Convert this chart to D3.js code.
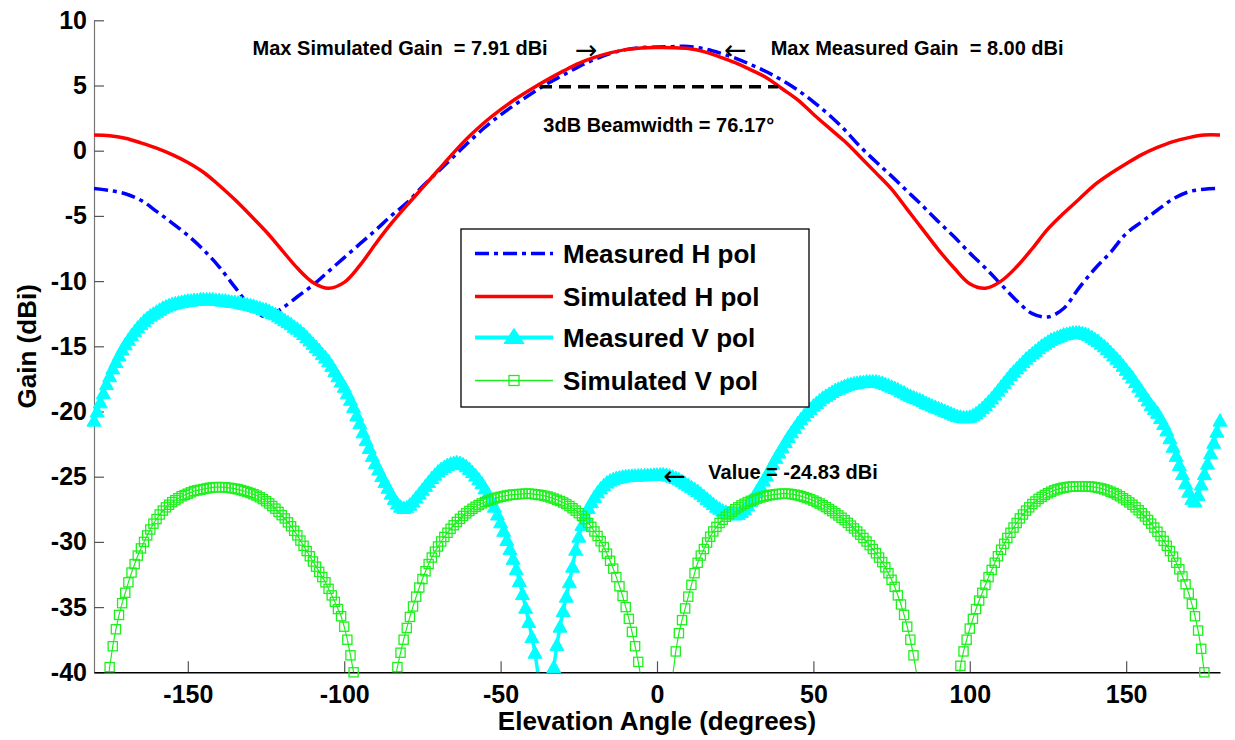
<!DOCTYPE html>
<html>
<head>
<meta charset="utf-8">
<script src="https://cdn.jsdelivr.net/npm/d3@7"></script>
<style>
  html, body { margin: 0; padding: 0; background: #fff; }
  svg { display: block; font-family: "Liberation Sans", Arial, Helvetica, sans-serif; }
</style>
</head>
<body>
<svg id="chart" width="1235" height="740"></svg>
<script>
// ---- Data -------------------------------------------------------------
// Horizontal polarisation, sampled every 5 degrees
const anglesH = d3.range(-180, 181, 5);
const simulatedH = [
  1.2, 1.15, 0.95, 0.6, 0.2, -0.3, -0.9, -1.65, -2.65, -3.75,
  -4.95, -6.2, -7.6, -9.0, -10.1, -10.55, -10.1, -8.8, -7.15, -5.6,
  -4.2, -2.85, -1.5, -0.15, 1.1, 2.2, 3.15, 4.0, 4.75, 5.45,
  6.1, 6.7, 7.15, 7.5, 7.75, 7.88, 7.91, 7.9, 7.83, 7.6,
  7.2, 6.75, 6.2, 5.6, 4.75, 3.9, 2.8, 1.75, 0.72, -0.48,
  -1.7, -2.95, -4.5, -6.05, -7.6, -9.0, -10.2, -10.55, -10.0, -8.9,
  -7.5, -6.0, -4.8, -3.7, -2.6, -1.75, -1.0, -0.3, 0.25, 0.7,
  1.0, 1.2, 1.2
];
const measuredH = [
  -2.9, -3.05, -3.3, -3.8, -4.65, -5.55, -6.5, -7.6, -8.9, -10.45,
  -11.9, -12.75, -12.1, -11.2, -10.3, -9.25, -8.2, -7.15, -6.1, -5.0,
  -4.0, -2.75, -1.6, -0.45, 0.7, 1.8, 2.75, 3.6, 4.4, 5.15,
  5.8, 6.45, 7.0, 7.45, 7.75, 7.9, 7.95, 7.98, 8.0, 7.82,
  7.5, 7.1, 6.6, 6.05, 5.4, 4.65, 3.75, 2.75, 1.6, 0.3,
  -0.85, -1.95, -3.1, -4.25, -5.45, -6.6, -7.85, -9.0, -10.25, -11.5,
  -12.5, -12.75, -12.1, -10.5, -9.05, -7.8, -6.35, -5.45, -4.55, -3.7,
  -3.15, -2.95, -2.9
];

// Vertical polarisation, sampled every degree
const anglesV = d3.range(-180, 181, 1);
const measuredV = [
  -20.7, -20.0, -19.3, -18.6, -17.9, -17.3, -16.7, -16.2, -15.7, -15.25,
  -14.85, -14.5, -14.15, -13.85, -13.55, -13.3, -13.05, -12.85, -12.65, -12.5,
  -12.35, -12.2, -12.05, -11.95, -11.85, -11.75, -11.7, -11.65, -11.6, -11.55,
  -11.5, -11.5, -11.45, -11.45, -11.4, -11.4, -11.4, -11.4, -11.4, -11.45,
  -11.45, -11.5, -11.5, -11.55, -11.6, -11.6, -11.65, -11.7, -11.75, -11.8,
  -11.85, -11.9, -12.0, -12.05, -12.15, -12.2, -12.3, -12.45, -12.55, -12.7,
  -12.85, -13.0, -13.15, -13.3, -13.5, -13.65, -13.85, -14.05, -14.3, -14.55,
  -14.8, -15.05, -15.3, -15.6, -15.85, -16.15, -16.5, -16.9, -17.3, -17.7,
  -18.1, -18.6, -19.1, -19.65, -20.3, -20.9, -21.6, -22.2, -22.8, -23.4,
  -23.95, -24.45, -24.95, -25.4, -25.85, -26.3, -26.7, -27.05, -27.3, -27.4,
  -27.35, -27.15, -26.9, -26.6, -26.3, -26.0, -25.7, -25.4, -25.1, -24.85,
  -24.6, -24.4, -24.25, -24.1, -24.0, -23.95, -23.9, -23.95, -24.05, -24.2,
  -24.4, -24.65, -24.9, -25.2, -25.5, -25.9, -26.3, -26.8, -27.3, -27.9,
  -28.5, -29.15, -29.85, -30.55, -31.3, -32.1, -33.0, -34.0, -35.05, -36.15,
  -37.3, -38.5, -40.2, -42.5, -45.0, -46.5, -43.0, -39.6, -37.9, -36.5,
  -35.3, -34.2, -33.1, -31.9, -30.6, -29.6, -28.7, -28.0, -27.4, -26.95,
  -26.55, -26.2, -25.9, -25.65, -25.45, -25.3, -25.2, -25.1, -25.05, -25.0,
  -24.97, -24.95, -24.93, -24.92, -24.91, -24.9, -24.89, -24.88, -24.87, -24.86,
  -24.85, -24.84, -24.83, -24.86, -24.92, -25.0, -25.1, -25.2, -25.35, -25.5,
  -25.65, -25.8, -25.95, -26.1, -26.3, -26.5, -26.7, -26.9, -27.1, -27.3,
  -27.45, -27.6, -27.7, -27.8, -27.85, -27.9, -27.85, -27.7, -27.5, -27.2,
  -26.85, -26.5, -26.1, -25.7, -25.3, -24.9, -24.45, -24.0, -23.55, -23.15,
  -22.75, -22.35, -21.95, -21.6, -21.25, -20.9, -20.6, -20.3, -20.05, -19.8,
  -19.55, -19.35, -19.15, -18.95, -18.8, -18.65, -18.5, -18.35, -18.25, -18.15,
  -18.05, -17.95, -17.9, -17.85, -17.8, -17.75, -17.75, -17.7, -17.7, -17.7,
  -17.7, -17.75, -17.8, -17.9, -18.0, -18.1, -18.2, -18.3, -18.45, -18.55,
  -18.7, -18.8, -18.9, -19.0, -19.1, -19.2, -19.35, -19.45, -19.55, -19.65,
  -19.75, -19.85, -19.95, -20.05, -20.15, -20.25, -20.35, -20.4, -20.45, -20.45,
  -20.4, -20.3, -20.15, -19.95, -19.75, -19.5, -19.25, -19.0, -18.7, -18.4,
  -18.1, -17.8, -17.5, -17.2, -16.95, -16.7, -16.45, -16.2, -15.95, -15.75,
  -15.55, -15.35, -15.15, -14.95, -14.8, -14.65, -14.5, -14.4, -14.3, -14.2,
  -14.1, -14.05, -14.0, -13.95, -13.95, -13.95, -14.0, -14.05, -14.15, -14.3,
  -14.45, -14.6, -14.8, -15.0, -15.2, -15.45, -15.7, -15.95, -16.2, -16.5,
  -16.8, -17.1, -17.4, -17.75, -18.1, -18.45, -18.8, -19.15, -19.5, -19.8,
  -20.1, -20.5, -20.95, -21.45, -22.05, -22.7, -23.4, -24.1, -24.8, -25.5,
  -26.15, -26.7, -26.9, -26.4, -25.6, -24.8, -24.0, -23.2, -22.4, -21.55,
  -20.7
];
const simulatedV = [
  -52, -52, -50, -46, -42.5, -39.6, -38.0, -36.7, -35.6, -34.7,
  -33.9, -33.1, -32.35, -31.7, -31.05, -30.5, -30.0, -29.5, -29.05, -28.6,
  -28.25, -27.9, -27.6, -27.35, -27.15, -26.95, -26.8, -26.65, -26.5, -26.4,
  -26.3, -26.2, -26.1, -26.05, -26.0, -25.95, -25.9, -25.85, -25.82, -25.8,
  -25.8, -25.8, -25.82, -25.85, -25.88, -25.92, -25.97, -26.03, -26.1, -26.17,
  -26.25, -26.35, -26.45, -26.58, -26.72, -26.88, -27.05, -27.25, -27.45, -27.7,
  -27.95, -28.2, -28.5, -28.8, -29.15, -29.5, -29.9, -30.3, -30.7, -31.1,
  -31.5, -31.9, -32.3, -32.7, -33.1, -33.6, -34.1, -34.6, -35.15, -35.7,
  -36.5, -37.5, -38.7, -40.0, -42.5, -46, -50, -52, -52, -52,
  -52, -52, -50, -47, -44, -42.3, -40.8, -39.6, -38.5, -37.5,
  -36.6, -35.75, -34.95, -34.2, -33.5, -32.85, -32.25, -31.7, -31.2, -30.75,
  -30.35, -29.97, -29.62, -29.3, -29.0, -28.72, -28.47, -28.23, -28.01, -27.81,
  -27.63, -27.46, -27.31, -27.17, -27.05, -26.94, -26.84, -26.75, -26.67, -26.6,
  -26.54, -26.49, -26.44, -26.4, -26.37, -26.35, -26.33, -26.32, -26.3, -26.3,
  -26.32, -26.35, -26.38, -26.42, -26.47, -26.52, -26.6, -26.68, -26.77, -26.87,
  -26.98, -27.1, -27.25, -27.42, -27.6, -27.8, -28.0, -28.25, -28.55, -28.85,
  -29.2, -29.55, -29.95, -30.4, -30.9, -31.45, -32.05, -32.7, -33.4, -34.15,
  -35.0, -35.9, -36.9, -38.0, -39.2, -40.6, -43, -47, -50, -52,
  -52, -52, -50, -47, -43.5, -40.3, -38.4, -37.0, -36.0, -35.1,
  -34.2, -33.3, -32.4, -31.6, -31.05, -30.55, -30.05, -29.6, -29.2, -28.85,
  -28.55, -28.3, -28.07, -27.87, -27.68, -27.5, -27.35, -27.2, -27.07, -26.95,
  -26.85, -26.76, -26.68, -26.6, -26.53, -26.47, -26.42, -26.38, -26.35, -26.32,
  -26.3, -26.3, -26.31, -26.34, -26.38, -26.43, -26.49, -26.56, -26.64, -26.73,
  -26.83, -26.94, -27.06, -27.19, -27.33, -27.48, -27.64, -27.8, -27.97, -28.15,
  -28.34, -28.54, -28.75, -28.97, -29.2, -29.45, -29.7, -29.97, -30.25, -30.55,
  -30.87, -31.2, -31.55, -31.95, -32.4, -32.9, -33.45, -34.1, -34.8, -35.6,
  -36.5, -37.5, -38.7, -40.1, -42.5, -46, -50, -52, -52, -52,
  -52, -52, -52, -52, -50, -46, -42, -39.5, -38.4, -37.5,
  -36.65, -35.9, -35.15, -34.5, -33.9, -33.3, -32.7, -32.15, -31.6, -31.1,
  -30.6, -30.15, -29.7, -29.3, -28.9, -28.55, -28.2, -27.9, -27.6, -27.35,
  -27.1, -26.9, -26.7, -26.55, -26.4, -26.27, -26.15, -26.05, -25.97, -25.9,
  -25.84, -25.8, -25.77, -25.75, -25.74, -25.73, -25.73, -25.74, -25.75, -25.77,
  -25.8, -25.85, -25.9, -25.97, -26.05, -26.15, -26.25, -26.37, -26.5, -26.65,
  -26.8, -26.97, -27.15, -27.35, -27.57, -27.8, -28.05, -28.32, -28.6, -28.9,
  -29.22, -29.56, -29.92, -30.3, -30.7, -31.13, -31.6, -32.1, -32.65, -33.25,
  -33.95, -34.75, -35.7, -36.8, -38.2, -40.0, -43, -47, -52, -52,
  -52
];

// Annotated values
const maxSimulatedGain = 7.91;
const maxMeasuredGain = 8.00;
const beamwidth = 76.17;
const beamStart = -37.4;
const cursorAngle = 2;
const cursorValue = -24.83;

// Axes ticks and labels
const xTicks = [-150, -100, -50, 0, 50, 100, 150];
const yTicks = [10, 5, 0, -5, -10, -15, -20, -25, -30, -35, -40];
const xLabel = "Elevation Angle (degrees)";
const yLabel = "Gain (dBi)";
const legendLabels = ["Measured H pol", "Simulated H pol", "Measured V pol", "Simulated V pol"];

// ---- Chart ------------------------------------------------------------
const svg = d3.select("#chart");
const x = d3.scaleLinear().domain([-180, 180]).range([94, 1220]);
const y = d3.scaleLinear().domain([-40, 10]).range([672.3, 20.3]);
const yMin = -40, yMax = 10;

svg.append("defs").append("clipPath").attr("id", "plot-clip")
  .append("rect")
  .attr("x", x(-180)).attr("y", y(yMax))
  .attr("width", x(180) - x(-180)).attr("height", y(yMin) - y(yMax));

// Axes
const fmt = d => String(d);
const gy = svg.append("g").attr("transform", `translate(${x(-180)},0)`)
  .call(d3.axisLeft(y).tickValues(yTicks).tickFormat(fmt)
    .tickSizeInner(-10).tickSizeOuter(0).tickPadding(7));
gy.select(".domain").attr("stroke", "#777").attr("stroke-width", 1.2);
gy.selectAll(".tick line").attr("stroke", "#555").attr("stroke-width", 1.2);
gy.selectAll(".tick text").attr("font-size", 25).attr("font-weight", "bold").attr("fill", "#000");

const gx = svg.append("g").attr("transform", `translate(0,${y(yMin)})`)
  .call(d3.axisBottom(x).tickValues(xTicks).tickFormat(fmt)
    .tickSizeInner(-11).tickSizeOuter(0).tickPadding(13));
gx.select(".domain").attr("stroke", "#000").attr("stroke-width", 1.4);
gx.selectAll(".tick line").attr("stroke", "#555").attr("stroke-width", 1.2);
gx.selectAll(".tick text").attr("font-size", 25).attr("font-weight", "bold").attr("fill", "#000");

svg.append("text")
  .attr("x", (x(-180) + x(180)) / 2).attr("y", 730)
  .attr("text-anchor", "middle").attr("font-size", 26).attr("font-weight", "bold")
  .text(xLabel);
svg.append("text")
  .attr("transform", `translate(36,${(y(yMin) + y(yMax)) / 2}) rotate(-90)`)
  .attr("text-anchor", "middle").attr("font-size", 26).attr("font-weight", "bold")
  .text(yLabel);

// Series
const plot = svg.append("g").attr("clip-path", "url(#plot-clip)");
const smooth = d3.line().x(d => x(d[0])).y(d => y(d[1])).curve(d3.curveCatmullRom.alpha(0.5));
const straight = d3.line().x(d => x(d[0])).y(d => y(d[1]));

const measHPts = anglesH.map((a, i) => [a, measuredH[i]]);
const simHPts = anglesH.map((a, i) => [a, simulatedH[i]]);
const measVPts = anglesV.map((a, i) => [a, measuredV[i]]);
const simVPts = anglesV.map((a, i) => [a, simulatedV[i]]);
const visible = p => p[1] >= yMin && p[1] <= yMax;

const blue = "#0000ff", red = "#ff0000", cyan = "#00ffff", green = "#1ef01e";
const dashDot = "14,5,4,5";
const triPath = "M0,-7L7,5.5L-7,5.5Z";

plot.append("path").attr("d", smooth(measHPts))
  .attr("fill", "none").attr("stroke", blue).attr("stroke-width", 3.5)
  .attr("stroke-dasharray", dashDot);
plot.append("path").attr("d", smooth(simHPts))
  .attr("fill", "none").attr("stroke", red).attr("stroke-width", 3.5)
  .attr("stroke-linejoin", "round");

plot.append("path").attr("d", straight(measVPts))
  .attr("fill", "none").attr("stroke", cyan).attr("stroke-width", 3.5)
  .attr("stroke-linejoin", "round");
svg.append("g").selectAll("path").data(measVPts.filter(visible)).join("path")
  .attr("d", triPath)
  .attr("transform", d => `translate(${x(d[0])},${y(d[1])})`)
  .attr("fill", cyan).attr("stroke", cyan).attr("stroke-width", 1);

plot.append("path").attr("d", straight(simVPts))
  .attr("fill", "none").attr("stroke", green).attr("stroke-width", 1.2);
svg.append("g").selectAll("rect").data(simVPts.filter(visible)).join("rect")
  .attr("x", d => x(d[0]) - 4.6).attr("y", d => y(d[1]) - 4.6)
  .attr("width", 9.2).attr("height", 9.2)
  .attr("fill", "none").attr("stroke", green).attr("stroke-width", 1.3);

// 3 dB beamwidth marker
const halfPower = maxSimulatedGain - 3;
svg.append("line")
  .attr("x1", x(beamStart)).attr("x2", x(beamStart + beamwidth))
  .attr("y1", y(halfPower)).attr("y2", y(halfPower))
  .attr("stroke", "#000").attr("stroke-width", 3.5).attr("stroke-dasharray", "12,7");

// Annotations
const notes = svg.append("g").attr("fill", "#000");
const note = (xv, yv, str) => notes.append("text")
  .attr("x", xv).attr("y", yv)
  .attr("xml:space", "preserve")
  .attr("font-size", 20).attr("font-weight", "bold")
  .text(str);
const arrow = (xv, yv, str) => notes.append("text")
  .attr("x", xv).attr("y", yv)
  .attr("font-size", 27).attr("font-family", "'DejaVu Sans', sans-serif")
  .text(str);
note(x(-129.3), y(7.34), `Max Simulated Gain  = ${maxSimulatedGain.toFixed(2)} dBi`);
arrow(x(-26.2), y(7.34) + 4, "\u2192");
arrow(x(21.4), y(7.34) + 4, "\u2190");
note(x(36.35), y(7.34), `Max Measured Gain  = ${maxMeasuredGain.toFixed(2)} dBi`);
note(x(-36.35), y(1.46), `3dB Beamwidth = ${beamwidth.toFixed(2)}\u00b0`);
arrow(x(cursorAngle), y(cursorValue) + 10.5, "\u2190");
note(x(16.4), y(-25.2), `Value = ${cursorValue.toFixed(2)} dBi`);

// Legend
const legend = svg.append("g").attr("transform", "translate(461,229)");
legend.append("rect").attr("width", 348).attr("height", 178)
  .attr("fill", "#fff").attr("stroke", "#000").attr("stroke-width", 1.3);
const rowY = [24.5, 67.5, 108.5, 151.5];
const styles = [
  { color: blue, width: 3.5, dash: dashDot, marker: null },
  { color: red, width: 3.5, dash: null, marker: null },
  { color: cyan, width: 4, dash: null, marker: "tri" },
  { color: green, width: 1.5, dash: null, marker: "sq" }
];
legendLabels.forEach((label, i) => {
  const s = styles[i];
  const row = legend.append("g").attr("transform", `translate(0,${rowY[i]})`);
  row.append("line").attr("x1", 14).attr("x2", 92).attr("y1", 0).attr("y2", 0)
    .attr("stroke", s.color).attr("stroke-width", s.width)
    .attr("stroke-dasharray", s.dash);
  if (s.marker === "tri") {
    row.append("path").attr("d", "M53,-9L63,6L43,6Z").attr("fill", s.color).attr("stroke", s.color);
  } else if (s.marker === "sq") {
    row.append("rect").attr("x", 48).attr("y", -5).attr("width", 10).attr("height", 10)
      .attr("fill", "none").attr("stroke", s.color).attr("stroke-width", 1.3);
  }
  row.append("text").attr("x", 102).attr("y", 9.5)
    .attr("font-size", 26).attr("font-weight", "bold").text(label);
});
</script>
</body>
</html>
